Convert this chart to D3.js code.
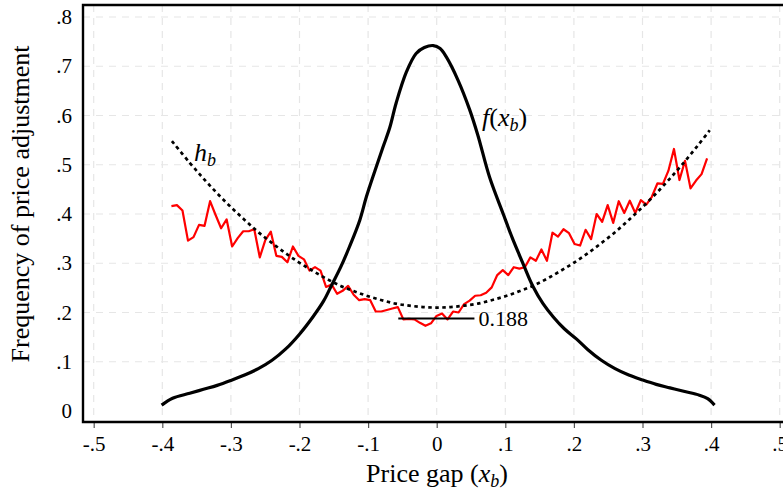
<!DOCTYPE html>
<html><head><meta charset="utf-8">
<script src="https://cdn.jsdelivr.net/npm/d3@7"></script>
<style>
html,body{margin:0;padding:0;background:#fff;}
text{font-family:"Liberation Serif","Times New Roman",serif;}
</style></head>
<body>
<svg id="chart" width="783" height="493"></svg>
<script>
// ---------- data ----------
const xTickValues = [-0.5,-0.4,-0.3,-0.2,-0.1,0,0.1,0.2,0.3,0.4,0.5];
const xTickLabels = ["-.5","-.4","-.3","-.2","-.1","0",".1",".2",".3",".4",".5"];
const yTickValues = [0,0.1,0.2,0.3,0.4,0.5,0.6,0.7,0.8];
const yTickLabels = ["0",".1",".2",".3",".4",".5",".6",".7",".8"];

// empirical frequency of price adjustment (red), bins starting at -0.3867, width 0.00805
const redStart = -0.3867, redStep = 0.00805;
const redValues = [0.416,0.418,0.407,0.346,0.353,0.378,0.376,0.426,0.398,0.371,
0.389,0.334,0.351,0.365,0.365,0.369,0.312,0.347,0.364,0.315,
0.313,0.302,0.334,0.315,0.308,0.285,0.292,0.285,0.252,0.257,
0.238,0.244,0.254,0.236,0.225,0.227,0.225,0.202,0.202,0.205,
0.208,0.211,0.186,0.187,0.186,0.179,0.173,0.178,0.193,0.198,
0.186,0.202,0.200,0.217,0.224,0.234,0.235,0.240,0.251,0.276,
0.286,0.276,0.292,0.289,0.292,0.312,0.305,0.328,0.305,0.362,
0.354,0.369,0.361,0.339,0.336,0.368,0.349,0.400,0.384,0.418,
0.382,0.426,0.402,0.427,0.402,0.428,0.419,0.435,0.462,0.461,
0.488,0.532,0.469,0.508,0.452,0.468,0.481,0.513];

// hazard h_b (dotted)
const hX = [-0.386,-0.36,-0.34,-0.32,-0.30,-0.28,-0.26,-0.24,-0.22,-0.20,-0.18,-0.16,-0.14,-0.12,-0.10,-0.08,-0.06,-0.04,-0.02,0,
0.02,0.04,0.06,0.08,0.10,0.12,0.14,0.16,0.18,0.20,0.22,0.24,0.26,0.28,0.30,0.32,0.34,0.36,0.38,0.398];
const hY = [0.548,0.504,0.472,0.442,0.414,0.388,0.363,0.341,0.320,0.301,0.284,0.268,0.254,0.243,0.233,0.225,0.218,0.214,0.211,0.210,
0.211,0.214,0.218,0.225,0.233,0.243,0.254,0.268,0.284,0.301,0.320,0.341,0.363,0.388,0.414,0.442,0.472,0.504,0.538,0.570];

// density f(x_b) (solid black)
const fX = [-0.401,-0.385,-0.36,-0.34,-0.32,-0.30,-0.28,-0.26,-0.24,-0.22,-0.20,-0.18,-0.165,-0.153,-0.14,-0.127,-0.112,-0.1025,-0.09,-0.078,-0.0685,-0.059,-0.044,-0.03,-0.018,-0.005,
0.005,0.014,0.031,0.048,0.060,0.077,0.097,0.110,0.121,0.128,0.140,0.155,0.170,0.186,0.204,0.22,0.24,0.26,0.28,0.30,0.32,0.34,0.36,0.383,0.395,0.405];
const fY = [0.012,0.026,0.036,0.044,0.052,0.062,0.073,0.086,0.103,0.126,0.156,0.192,0.223,0.256,0.292,0.334,0.388,0.435,0.488,0.537,0.575,0.626,0.689,0.726,0.738,0.742,
0.736,0.719,0.672,0.612,0.560,0.475,0.400,0.352,0.315,0.292,0.254,0.218,0.191,0.167,0.146,0.125,0.103,0.086,0.073,0.063,0.054,0.047,0.040,0.032,0.025,0.012];

const refLevel = 0.188;
const refX = [-0.056, 0.055];

// ---------- layout ----------
const FONT = '"Liberation Serif","Times New Roman",serif';
const svg = d3.select("#chart");
const x = d3.scaleLinear().domain([-0.5,0.5]).range([93.7,779.7]);
const y = d3.scaleLinear().domain([0,0.8]).range([411,17]);
const pLeft = 83, pTop = 5, pBottom = 422, pRight = 783;

// gridlines
const grid = svg.append("g").attr("stroke","#e6e6e6").attr("stroke-width",1.2).attr("stroke-dasharray","7 6");
grid.selectAll("line.v").data(xTickValues).join("line")
  .attr("x1",d=>x(d)).attr("x2",d=>x(d)).attr("y1",pTop).attr("y2",pBottom);
grid.selectAll("line.h").data(yTickValues.filter(d=>d>0)).join("line")
  .attr("x1",pLeft).attr("x2",pRight).attr("y1",d=>y(d)).attr("y2",d=>y(d));

// x axis ticks
const xAxis = d3.axisBottom(x).tickValues(xTickValues).tickFormat((d,i)=>xTickLabels[i]).tickSize(6).tickSizeOuter(0);
const gx = svg.append("g").attr("transform",`translate(0,${pBottom})`).call(xAxis);
gx.select(".domain").remove();
gx.attr("font-family",null);
gx.selectAll(".tick line").attr("stroke","#555").attr("stroke-width",1.2);
gx.selectAll(".tick text").style("font-family",FONT).style("font-size","21px").attr("fill","#000").attr("dy","0.95em");

// y axis labels
const yAxis = d3.axisLeft(y).tickValues(yTickValues).tickFormat((d,i)=>yTickLabels[i]).tickSize(0).tickPadding(11);
const gy = svg.append("g").attr("transform",`translate(${pLeft},0)`).call(yAxis);
gy.select(".domain").remove();
gy.attr("font-family",null);
gy.selectAll(".tick text").style("font-family",FONT).style("font-size","21px").attr("fill","#000");

// frame
svg.append("path").attr("d",`M${pRight},${pTop}H${pLeft}V${pBottom}H${pRight}`)
  .attr("fill","none").attr("stroke","#000").attr("stroke-width",2.4);

// red empirical line
const redLine = d3.line().x((d,i)=>x(redStart+i*redStep)).y(d=>y(d));
svg.append("path").datum(redValues).attr("d",redLine)
  .attr("fill","none").attr("stroke","#ff0000").attr("stroke-width",2.2).attr("stroke-linejoin","round");

// dotted hazard
const hLine = d3.line().x(d=>x(d[0])).y(d=>y(d[1])).curve(d3.curveCatmullRom);
svg.append("path").datum(hX.map((v,i)=>[v,hY[i]])).attr("d",hLine)
  .attr("fill","none").attr("stroke","#000").attr("stroke-width",2.7).attr("stroke-dasharray","3.5 3.5");

// density
const fLine = d3.line().x(d=>x(d[0])).y(d=>y(d[1])).curve(d3.curveCatmullRom);
svg.append("path").datum(fX.map((v,i)=>[v,fY[i]])).attr("d",fLine)
  .attr("fill","none").attr("stroke","#000").attr("stroke-width",3.2).attr("stroke-linejoin","round");

// reference line 0.188
svg.append("line").attr("x1",x(refX[0])).attr("x2",x(refX[1])).attr("y1",y(refLevel)).attr("y2",y(refLevel))
  .attr("stroke","#000").attr("stroke-width",2);
svg.append("text").attr("x",x(refX[1])+4).attr("y",y(refLevel)+8).style("font-size","22px").text("0.188");

// annotations
const hb = svg.append("text").attr("x",194).attr("y",161).style("font-size","26px").attr("font-style","italic");
hb.append("tspan").text("h");
hb.append("tspan").style("font-size","18px").attr("dy",5).text("b");

const fx = svg.append("text").attr("x",482).attr("y",126).style("font-size","26px");
fx.append("tspan").attr("font-style","italic").text("f");
fx.append("tspan").text("(");
fx.append("tspan").attr("font-style","italic").text("x");
fx.append("tspan").attr("font-style","italic").style("font-size","18px").attr("dy",5).text("b");
fx.append("tspan").attr("dy",-5).text(")");

// axis titles
const xt = svg.append("text").attr("x",437).attr("y",482).attr("text-anchor","middle").style("font-size","26px");
xt.append("tspan").text("Price gap (");
xt.append("tspan").attr("font-style","italic").text("x");
xt.append("tspan").attr("font-style","italic").style("font-size","18px").attr("dy",5).text("b");
xt.append("tspan").attr("dy",-5).text(")");

svg.append("text").attr("transform","translate(29,204) rotate(-90)").attr("text-anchor","middle")
  .style("font-size","26px").text("Frequency of price adjustment");
</script>
</body></html>
